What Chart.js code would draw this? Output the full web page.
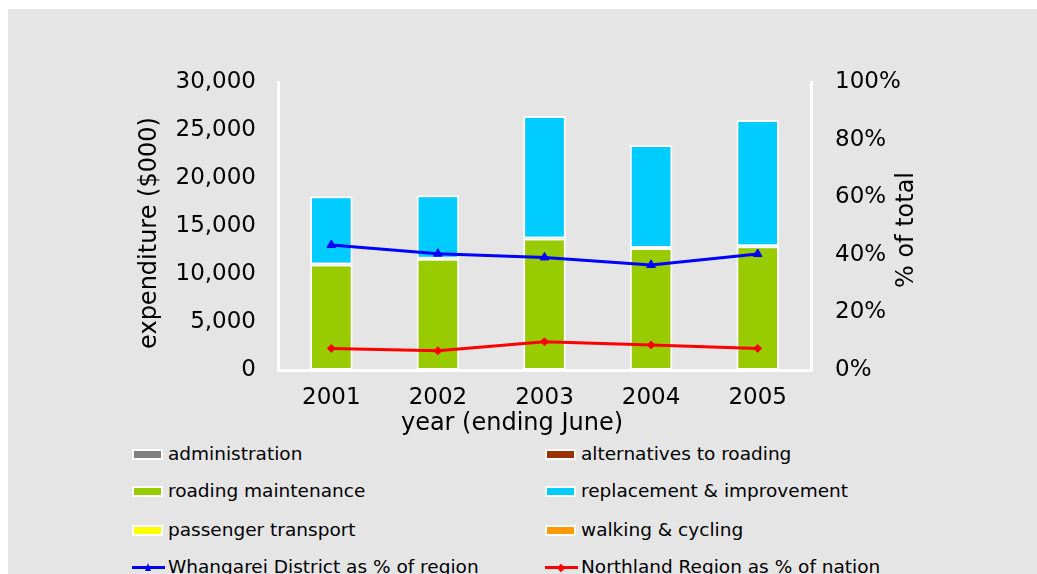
<!DOCTYPE html>
<html>
<head>
<meta charset="utf-8">
<script src="https://cdn.jsdelivr.net/npm/chart.js@4/dist/chart.umd.min.js"></script>
<style>
  body { margin: 0; background: #fff; width: 1037px; height: 574px; overflow: hidden; position: relative; font-family: "DejaVu Sans", Verdana, sans-serif; }
  #panel { position: absolute; left: 8px; top: 9px; width: 1029px; height: 565px; background: #e5e5e5; }
  #wrap { position: absolute; left: 0; top: 0; width: 1037px; height: 440px; }
  #legend { position: absolute; left: 0; top: 0; }
  .item { position: absolute; font-size: 18.5px; color: #000; white-space: nowrap; line-height: 20px; }
  .box { position: absolute; width: 27px; height: 7px; border: 2px solid #fff; }
  .line { position: absolute; width: 33px; height: 3px; }
  .mark { position: absolute; }
</style>
</head>
<body>
<div id="panel"></div>
<div id="wrap"><canvas id="roadChart" width="1037" height="440"></canvas></div>
<div id="legend"></div>
<script>
// data
const years = ['2001', '2002', '2003', '2004', '2005'];
const administration = [0, 0, 0, 0, 0];
const alternatives = [0, 0, 0, 0, 0];
const maintenance = [11000, 11600, 13700, 12700, 12900];
const replacement = [7100, 6600, 12750, 10750, 13150];
const passenger = [0, 0, 0, 0, 0];
const walking = [0, 0, 0, 0, 0];
const districtPct = [43.4, 40.4, 39.1, 36.5, 40.3];
const regionPct = [7.5, 6.7, 9.8, 8.7, 7.5];
const leftTicks = [0, 5000, 10000, 15000, 20000, 25000, 30000];
const rightTicks = [0, 20, 40, 60, 80, 100];

const FONT = '"DejaVu Sans", Verdana, sans-serif';

function barSet(label, data, color) {
    return {
        type: 'bar', label: label, data: data, backgroundColor: color,
        borderColor: '#fff', borderWidth: 2, borderSkipped: false,
        yAxisID: 'y', stack: 's', order: 2,
        barPercentage: 0.4, categoryPercentage: 1
    };
}

function lineSet(label, data, color, style, r) {
    return {
        type: 'line', label: label, data: data, borderColor: color, backgroundColor: color,
        borderWidth: 3, pointStyle: style, pointRadius: r, pointBorderWidth: 1,
        yAxisID: 'y1', order: 1, tension: 0
    };
}

const datasets = [
    barSet('administration', administration, '#808080'),
    barSet('alternatives to roading', alternatives, '#993300'),
    barSet('roading maintenance', maintenance, '#99cc00'),
    barSet('replacement & improvement', replacement, '#00ccff'),
    barSet('passenger transport', passenger, '#ffff00'),
    barSet('walking & cycling', walking, '#ff9900'),
    lineSet('Whangarei District as % of region', districtPct, '#0000ff', 'triangle', 5),
    lineSet('Northland Region as % of nation', regionPct, '#ff0000', 'rectRot', 4)
];

// axis titles drawn by hand to match the original placement
const titlePlugin = {
    id: 'titles',
    afterDraw(chart) {
        const c = chart.ctx;
        c.save();
        c.fillStyle = '#000';
        c.font = '24px ' + FONT;
        c.textAlign = 'center';
        c.textBaseline = 'middle';
        c.fillText('year (ending June)', 512, 424);
        c.translate(150, 233);
        c.rotate(-Math.PI / 2);
        c.fillText('expenditure ($000)', 0, 0);
        c.restore();
        c.save();
        c.fillStyle = '#000';
        c.font = '24px ' + FONT;
        c.textAlign = 'center';
        c.textBaseline = 'middle';
        c.translate(907, 230);
        c.rotate(-Math.PI / 2);
        c.fillText('% of total', 0, 0);
        c.restore();
    }
};

const ctx = document.getElementById('roadChart').getContext('2d');
const chart = new Chart(ctx, {
    data: { labels: years, datasets: datasets },
    options: {
        responsive: false,
        animation: false,
        layout: { padding: { left: 128, right: 96, top: 82, bottom: 0 } },
        plugins: { legend: { display: false }, tooltip: { enabled: false } },
        scales: {
            x: {
                stacked: true,
                grid: { display: false, drawTicks: false },
                border: { display: true, color: '#fff', width: 3 },
                ticks: { color: '#000', font: { family: FONT, size: 23 }, padding: 14 },
                afterFit(s) { s.height = 70; }
            },
            y: {
                stacked: true, min: 0, max: 30000,
                grid: { display: false, drawTicks: false },
                border: { display: true, color: '#fff', width: 3 },
                afterBuildTicks(s) { s.ticks = leftTicks.map(v => ({ value: v })); },
                ticks: {
                    color: '#000', font: { family: FONT, size: 23 }, padding: 22,
                    callback: v => v.toLocaleString('en-US')
                },
                afterFit(s) { s.width = 150; }
            },
            y1: {
                position: 'right', stacked: false, min: 0, max: 100,
                grid: { display: false, drawTicks: false },
                border: { display: true, color: '#fff', width: 3 },
                afterBuildTicks(s) { s.ticks = rightTicks.map(v => ({ value: v })); },
                ticks: {
                    color: '#000', font: { family: FONT, size: 23 }, padding: 24,
                    callback: v => v + '%'
                },
                afterFit(s) { s.width = 130; }
            }
        }
    },
    plugins: [titlePlugin]
});

// legend in two columns, built from the datasets
const legend = document.getElementById('legend');
const colX = [132, 545];
const rowY = [454, 491, 530, 567];
datasets.forEach((d, i) => {
    const x = colX[i % 2], y = rowY[Math.floor(i / 2)];
    const item = document.createElement('div');
    item.className = 'item';
    item.style.left = (x + 36) + 'px';
    item.style.top = (y - 10) + 'px';
    item.textContent = d.label;
    legend.appendChild(item);
    if (d.type === 'bar') {
        const b = document.createElement('div');
        b.className = 'box';
        b.style.left = x + 'px';
        b.style.top = (y - 5) + 'px';
        b.style.background = d.backgroundColor;
        legend.appendChild(b);
    } else {
        const l = document.createElement('div');
        l.className = 'line';
        l.style.left = x + 'px';
        l.style.top = (y - 1) + 'px';
        l.style.background = d.borderColor;
        legend.appendChild(l);
        const m = document.createElement('div');
        m.className = 'mark';
        m.style.left = (x + 13) + 'px';
        m.style.top = (y - 4) + 'px';
        m.style.width = '6px';
        m.style.height = '8px';
        m.style.background = d.borderColor;
        if (d.pointStyle === 'rectRot') {
            m.style.transform = 'rotate(45deg)';
            m.style.width = '6px';
            m.style.height = '6px';
            m.style.top = (y - 2) + 'px';
        } else {
            m.style.clipPath = 'polygon(50% 0, 100% 100%, 0 100%)';
        }
        legend.appendChild(m);
    }
});
</script>
</body>
</html>
